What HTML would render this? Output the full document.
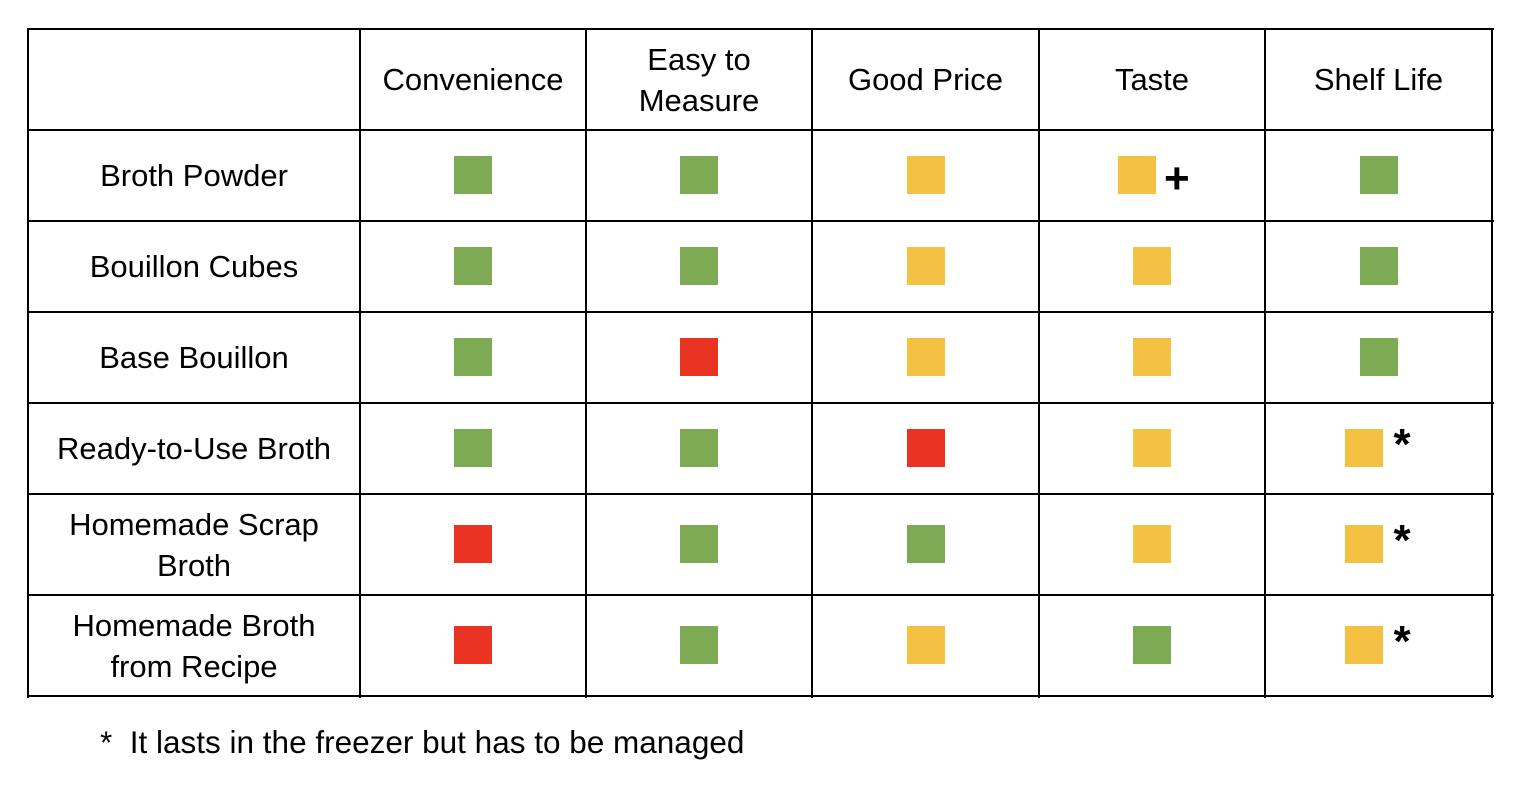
<!DOCTYPE html>
<html><head><meta charset="utf-8"><style>
body{margin:0;width:1530px;height:800px;background:#fff;position:relative;font-family:"Liberation Sans",sans-serif;color:#000;overflow:hidden}
.cell{position:absolute;display:flex;align-items:center;justify-content:center;text-align:center;font-size:31px;line-height:41px;box-sizing:border-box}
.line{position:absolute;background:#000}
.sq{position:absolute;width:38px;height:38px}
.mark{position:absolute;font-size:44px;font-weight:bold;line-height:38px}
</style></head><body>
<div id="tbl"></div>
<div class="cell" style="left:100px;top:722px;height:40px;justify-content:flex-start;font-size:31.5px">*&nbsp; It lasts in the freezer but has to be managed</div>
<script>
const columns=["Convenience","Easy to<br>Measure","Good Price","Taste","Shelf Life"];
const rows=["Broth Powder","Bouillon Cubes","Base Bouillon","Ready-to-Use Broth","Homemade Scrap<br>Broth","Homemade Broth<br>from Recipe"];
const ratings=[
["g","g","y","y+","g"],
["g","g","y","y","g"],
["g","r","y","y","g"],
["g","g","r","y","y*"],
["r","g","g","y","y*"],
["r","g","y","g","y*"]];
const colors={g:"#7ea955",y:"#f5c143",r:"#e93323"};
const xs=[28,360,586,812,1039,1265,1492];
const ys=[29,130,221,312,403,494,595,696];
const t=document.getElementById('tbl');
function add(cls,style,html,name){const d=document.createElement('div');d.className=cls;d.style.cssText=style;if(html)d.innerHTML=html;


t.appendChild(d);return d;}
xs.forEach((x,i)=>add('line',`left:${x-1}px;top:28px;width:2px;height:670px`,'','col-line-'+i));
ys.forEach((y,i)=>add('line',`left:27px;top:${y-1}px;width:1467px;height:2px`,'','row-line-'+i));
columns.forEach((c,i)=>add('cell',`left:${xs[i+1]}px;top:${ys[0]}px;width:${xs[i+2]-xs[i+1]}px;height:${ys[1]-ys[0]}px`,c,'column-header'));
rows.forEach((r,j)=>{
 add('cell',`left:${xs[0]}px;top:${ys[j+1]}px;width:${xs[1]-xs[0]}px;height:${ys[j+2]-ys[j+1]}px`,r,'row-label');
 ratings[j].forEach((v,i)=>{
  const cx=(xs[i+1]+xs[i+2])/2, cy=(ys[j+1]+ys[j+2])/2-1;
  const m=v[1]; const off=m?-15:0;
  add('sq',`left:${cx-19+off}px;top:${cy-19}px;background:${colors[v[0]]}`,'','rating-square');
  if(m) add('mark',`left:${cx+(m=='+'?12:15)}px;top:${cy-19+(m=='*'?-3:4)}px`,m=='+'?'+':'*',m=='+'?'plus-marker':'asterisk-marker');
 });
});
</script>
</body></html>
